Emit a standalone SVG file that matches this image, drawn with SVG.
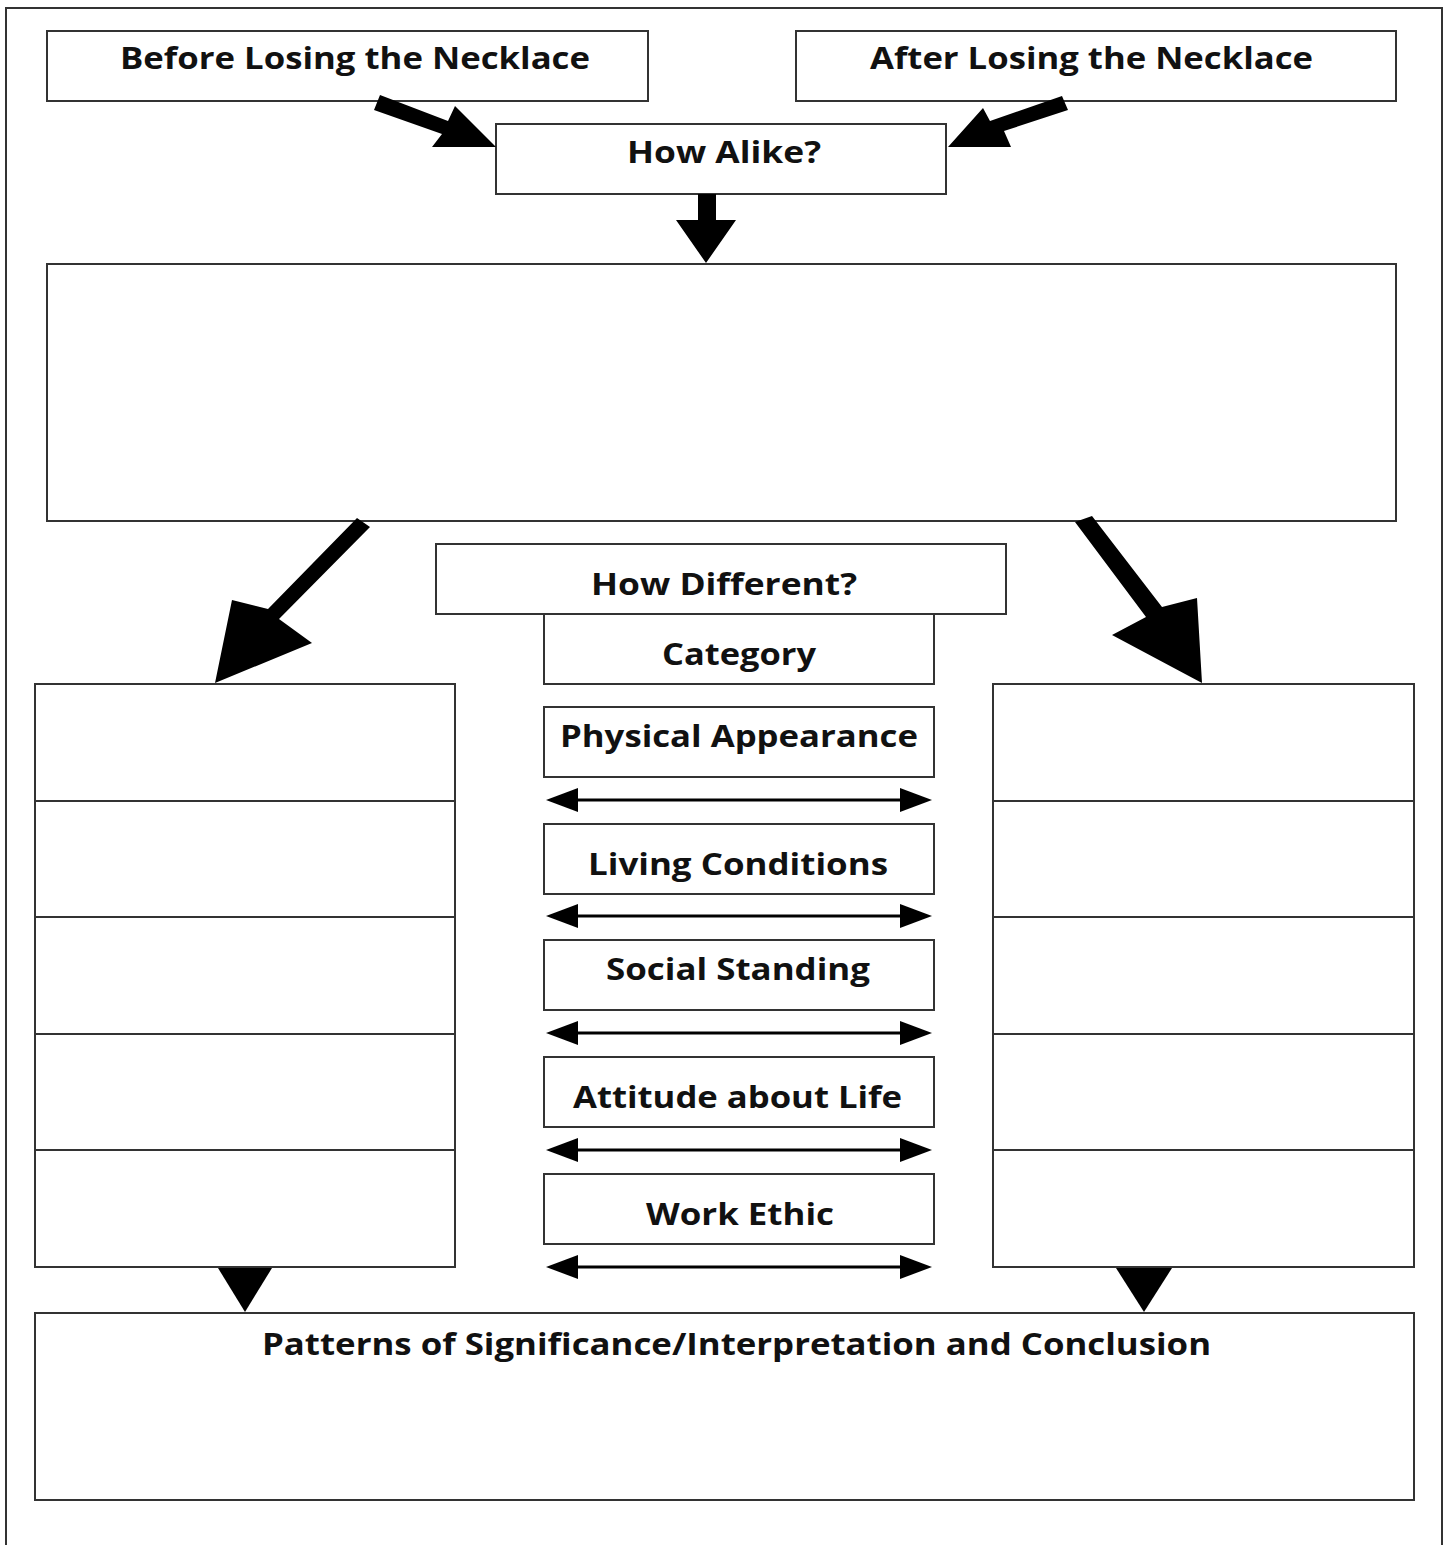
<svg xmlns="http://www.w3.org/2000/svg" width="1449" height="1545" viewBox="0 0 1449 1545">
<style>
.box{fill:#fff;stroke:#333;stroke-width:2}
.ln{fill:none;stroke:#333;stroke-width:2}
.t{font-family:"Open Sans","Liberation Sans",sans-serif;font-weight:bold;font-size:30px;fill:#111}
.ar{fill:#000}
.dl{stroke:#000;stroke-width:3;fill:none}
</style>
<rect width="1449" height="1545" fill="#fff"/>
<path class="ln" d="M6,1545 V8 H1442 V1545"/>
<g id="before"><rect class="box" x="47" y="31" width="601" height="70"/><text class="t" x="120" y="69" textLength="470" lengthAdjust="spacingAndGlyphs">Before Losing the Necklace</text></g>
<g id="after"><rect class="box" x="796" y="31" width="600" height="70"/><text class="t" x="870" y="69" textLength="443" lengthAdjust="spacingAndGlyphs">After Losing the Necklace</text></g>
<g id="alike"><rect class="box" x="496" y="124" width="450" height="70"/><text class="t" x="627" y="163" textLength="194" lengthAdjust="spacingAndGlyphs">How Alike?</text></g>
<g id="similar"><rect class="box" x="47" y="264" width="1349" height="257"/></g>
<g id="different"><rect class="box" x="436" y="544" width="570" height="70"/><text class="t" x="591" y="595" textLength="266" lengthAdjust="spacingAndGlyphs">How Different?</text></g>
<g id="category"><rect class="box" x="544" y="614" width="390" height="70"/><text class="t" x="662" y="665" textLength="154" lengthAdjust="spacingAndGlyphs">Category</text></g>
<g id="physical"><rect class="box" x="544" y="707" width="390" height="70"/><text class="t" x="560" y="747" textLength="358" lengthAdjust="spacingAndGlyphs">Physical Appearance</text></g>
<g id="living"><rect class="box" x="544" y="824" width="390" height="70"/><text class="t" x="588" y="875" textLength="300" lengthAdjust="spacingAndGlyphs">Living Conditions</text></g>
<g id="social"><rect class="box" x="544" y="940" width="390" height="70"/><text class="t" x="606" y="980" textLength="264" lengthAdjust="spacingAndGlyphs">Social Standing</text></g>
<g id="attitude"><rect class="box" x="544" y="1057" width="390" height="70"/><text class="t" x="573" y="1108" textLength="329" lengthAdjust="spacingAndGlyphs">Attitude about Life</text></g>
<g id="work"><rect class="box" x="544" y="1174" width="390" height="70"/><text class="t" x="646" y="1225" textLength="188" lengthAdjust="spacingAndGlyphs">Work Ethic</text></g>
<g id="leftcol"><rect class="box" x="35" y="684" width="420" height="583"/><path class="ln" d="M35,801 H455 M35,917 H455 M35,1034 H455 M35,1150 H455"/></g>
<g id="rightcol"><rect class="box" x="993" y="684" width="421" height="583"/><path class="ln" d="M993,801 H1414 M993,917 H1414 M993,1034 H1414 M993,1150 H1414"/></g>
<g id="conclusion"><rect class="box" x="35" y="1313" width="1379" height="187"/><text class="t" x="262" y="1355" textLength="949" lengthAdjust="spacingAndGlyphs">Patterns of Significance/Interpretation and Conclusion</text></g>
<g id="connectors">
<polygon class="ar" points="380,95 448,121 455,106 496,147 432,147 442,134 374,110"/>
<polygon class="ar" points="1062,96 1068,110 1004,131 1011,147 948,147 983,108 990,121"/>
<polygon class="ar" points="698,194 716,194 716,220 736,220 706,263 676,220 698,220"/>
<polygon class="ar" points="357,518 370,527 279,619 312,643 215,683 232,600 268,609"/>
<polygon class="ar" points="1075,522 1092,516 1162,607 1197,598 1202,683 1112,635 1146,617"/>
<polygon class="ar" points="218,1268 272,1268 245,1312"/>
<polygon class="ar" points="1116,1268 1172,1268 1144,1312"/>
<g>
<line class="dl" x1="570" y1="800" x2="908" y2="800"/><polygon class="ar" points="546,800 578,788 578,812"/><polygon class="ar" points="932,800 900,788 900,812"/>
<line class="dl" x1="570" y1="916" x2="908" y2="916"/><polygon class="ar" points="546,916 578,904 578,928"/><polygon class="ar" points="932,916 900,904 900,928"/>
<line class="dl" x1="570" y1="1033" x2="908" y2="1033"/><polygon class="ar" points="546,1033 578,1021 578,1045"/><polygon class="ar" points="932,1033 900,1021 900,1045"/>
<line class="dl" x1="570" y1="1150" x2="908" y2="1150"/><polygon class="ar" points="546,1150 578,1138 578,1162"/><polygon class="ar" points="932,1150 900,1138 900,1162"/>
<line class="dl" x1="570" y1="1267" x2="908" y2="1267"/><polygon class="ar" points="546,1267 578,1255 578,1279"/><polygon class="ar" points="932,1267 900,1255 900,1279"/>
</g>
</g>
</svg>
